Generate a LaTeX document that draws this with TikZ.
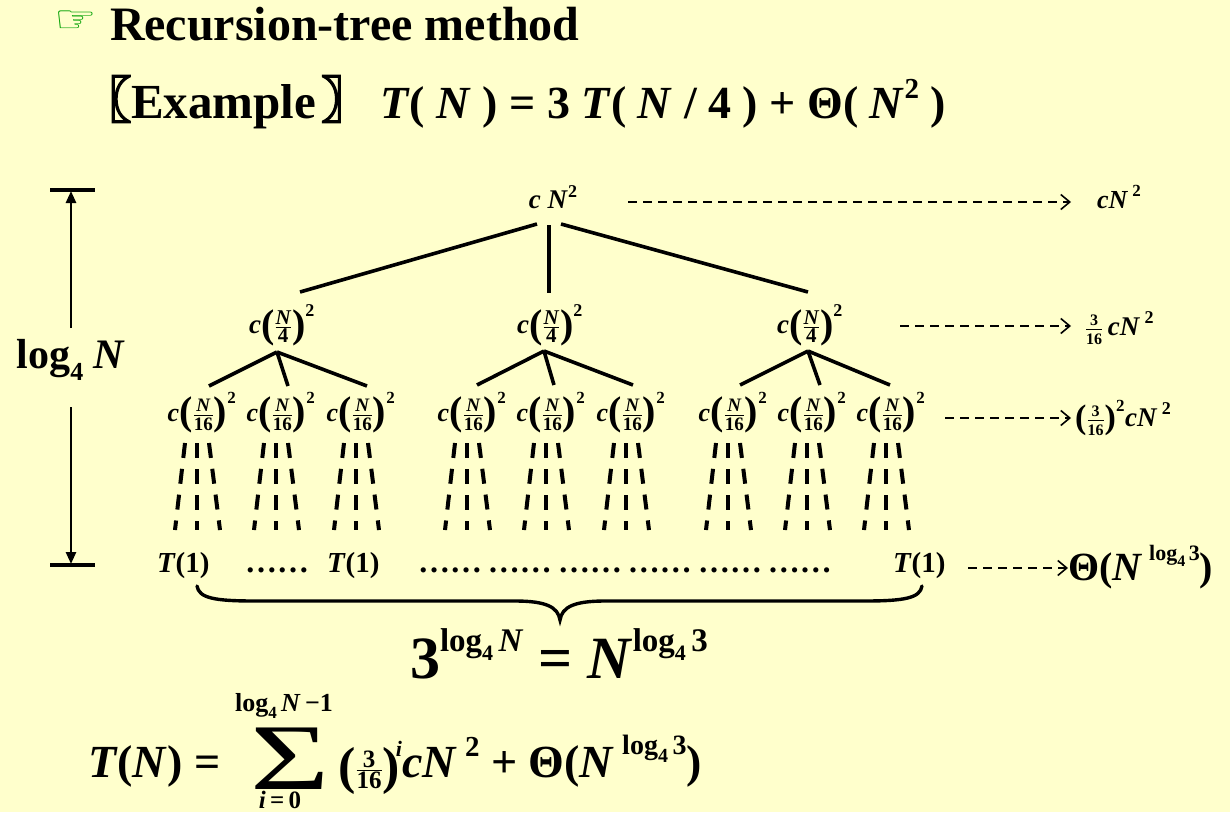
\documentclass[tikz,border=0pt]{standalone}
\usepackage{amsmath}
\usepackage{graphicx}
\usepackage{fontspec}
\setmainfont{Liberation Serif}
\newfontfamily\cjk{Noto Sans CJK SC}[AutoFakeBold=4]
\newfontfamily\djv{DejaVu Sans}
\usetikzlibrary{arrows.meta}
\definecolor{bg}{HTML}{FFFFCC}
\definecolor{handgreen}{HTML}{00A000}
\newcommand\fsz[1]{\fontsize{#1}{#1}\selectfont}
\newcommand\bi[1]{\textbf{\textit{#1}}}
\newcommand\lp[1]{\mathord{\vcenter{\hbox{\fsz{#1}\bfseries(}}}}
\newcommand\rp[1]{\mathord{\vcenter{\hbox{\fsz{#1}\bfseries)}}}}
% #1 denominator, #2 fraction size, #3 paren size, #4 exponent size
\newcommand\cpow[4]{\bi{c}$\lp{#3}\genfrac{}{}{0.8pt}{}{\text{\fsz{#2}\bfseries\itshape N}}{\text{\fsz{#2}\bfseries #1}}\rp{#3}^{\text{\fsz{#4}\bfseries 2}}$}
\newcommand\sfr[3]{$\genfrac{}{}{0.7pt}{}{\text{\fsz{#1}\bfseries #2}}{\text{\fsz{#1}\bfseries #3}}$}
\newcommand\lgf[3]{{\fsz{#1}\bfseries log\raisebox{-0.3em}{\fsz{#2}\bfseries 4}\,#3}}
\tikzset{
  every node/.style={inner sep=0pt,outer sep=0pt},
  tree/.style={line width=3.6pt},
  fan/.style={line width=4pt,dash pattern=on 15pt off 11pt},
  proj/.style={line width=1.6pt,dash pattern=on 9pt off 6pt,
    -{Straight Barb[length=9pt,width=15pt,line width=1.6pt]}},
  lvlone/.style={font=\fsz{27}\bfseries},
  lvltwo/.style={font=\fsz{26}\bfseries},
  leaf/.style={font=\fsz{29}\bfseries,anchor=base west},
  dots/.style={font=\fsz{32}\bfseries,anchor=base west},
  bar/.style={line width=3.6pt},
  vline/.style={line width=2.6pt,-{Triangle[length=12pt,width=10pt]}},
}
\begin{document}
\begin{tikzpicture}[x=1pt,y=-1pt]
\fill[bg] (0,0) rectangle (1230,812);
\useasboundingbox (0,0) rectangle (1230,812);

% headings
\node[anchor=west,font=\fsz{38}\djv,text=handgreen] (hand) at (54,22) {\scalebox{1.25}[1]{☞}};
\node[anchor=base west,font=\fsz{48}\bfseries] (title) at (110,40) {Recursion-tree method};
\node[anchor=base west,font=\fsz{49}\bfseries] (ex) at (110,118)
  {\hspace*{-28.5pt}{\fsz{50}\cjk\bfseries 〖}\hspace{-0.5pt}Example\hspace{5pt}{\fsz{50}\cjk\bfseries 〗}};
\node[anchor=base west,font=\fsz{46}\bfseries] (rec) at (380,118)
  {\bi{T}( \bi{N} ) = 3 \bi{T}( \bi{N} / 4 ) + Θ( \bi{N}\raisebox{0.42em}{\fsz{29}\bfseries 2} )};

% tree
\node[font=\fsz{27}\bfseries] (root) at (553,197) {\bi{c} \bi{N}\raisebox{0.42em}{\fsz{18}\bfseries 2}};
\node[lvlone] (A) at (282,325) {\cpow{4}{21}{40}{18}};
\node[lvlone] (B) at (550,325) {\cpow{4}{21}{40}{18}};
\node[lvlone] (C) at (810,325) {\cpow{4}{21}{40}{18}};

\coordinate (rL) at (537,224); \coordinate (rM) at (549,225); \coordinate (rR) at (561,224);
\coordinate (Atop) at (300,292); \coordinate (Btop) at (549,293); \coordinate (Ctop) at (808,292);
\draw[tree] (rL) -- (Atop);
\draw[tree] (rM) -- (Btop);
\draw[tree] (rR) -- (Ctop);

\coordinate (Aap) at (277,352); \coordinate (Bap) at (544,351); \coordinate (Cap) at (808,351);
\foreach \n/\x in {A1/209,A2/288,A3/367}{\coordinate (\n) at (\x,386); \draw[tree] (Aap) -- (\n);}
\foreach \n/\x in {B1/477,B2/554,B3/633}{\coordinate (\n) at (\x,385); \draw[tree] (Bap) -- (\n);}
\foreach \n/\x in {C1/740,C2/820,C3/890}{\coordinate (\n) at (\x,385); \draw[tree] (Cap) -- (\n);}

\foreach \n/\x in {a/202,b/281,c/361,d/472,e/551,f/631,g/733,h/812,i/891}{
  \node[lvltwo] (L\n) at (\x,413) {\cpow{16}{19}{40}{17}};
  \coordinate (L\n-l0) at (\x-17,443); \coordinate (L\n-l1) at (\x-27,530);
  \coordinate (L\n-m0) at (\x-5,443);  \coordinate (L\n-m1) at (\x-5,530);
  \coordinate (L\n-r0) at (\x+7,443);  \coordinate (L\n-r1) at (\x+18,530);
  \draw[fan] (L\n-l0) -- (L\n-l1);
  \draw[fan] (L\n-m0) -- (L\n-m1);
  \draw[fan] (L\n-r0) -- (L\n-r1);
}

% leaves
\node[leaf] (T1) at (157,572) {\bi{T}(1)};
\node[dots] (D1) at (245,572) {……};
\node[leaf] (T2) at (327,572) {\bi{T}(1)};
\node[dots] (D2) at (418,572) {……\hspace{6pt}……\hspace{6pt}……\hspace{6pt}……\hspace{6pt}……\hspace{6pt}……};
\node[leaf] (T3) at (893,572) {\bi{T}(1)};

% brace
\coordinate (brl) at (197,586); \coordinate (brr) at (922,586); \coordinate (brt) at (560,620);
\draw[line width=3.4pt,line cap=round]
  (brl) .. controls (199,598) and (214,601) .. (255,601) -- (515,601)
  .. controls (546,601) and (558,607) .. (brt)
  .. controls (562,607) and (574,601) .. (605,601) -- (864,601)
  .. controls (905,601) and (920,598) .. (brr);
\node[anchor=base west,font=\fsz{60}\bfseries] (count) at (410,678)
  {3\raisebox{0.45em}{\lgf{33}{22}{\bi{N}}} = \bi{N}\raisebox{0.45em}{\lgf{33}{22}{3}}};

% height marker
\coordinate (tbl) at (50,190); \coordinate (tbr) at (95,190);
\coordinate (bbl) at (50,565); \coordinate (bbr) at (95,565);
\draw[bar] (tbl) -- (tbr);
\draw[bar] (bbl) -- (bbr);
\node[font=\fsz{42}\bfseries] (logN) at (71,360) {log\raisebox{-0.3em}{\fsz{26}\bfseries 4} \bi{N}};
\coordinate (up0) at (71,328); \coordinate (up1) at (71,191);
\coordinate (dn0) at (71,407); \coordinate (dn1) at (71,564);
\draw[vline] (up0) -- (up1);
\draw[vline] (dn0) -- (dn1);

% level sums
\coordinate (p1s) at (628,202); \coordinate (p1e) at (1071,202);
\coordinate (p2s) at (900,326); \coordinate (p2e) at (1071,326);
\coordinate (p3s) at (945,418); \coordinate (p3e) at (1071,418);
\coordinate (p4s) at (968,568); \coordinate (p4e) at (1068,568);
\draw[proj] (p1s) -- (p1e);
\draw[proj] (p2s) -- (p2e);
\draw[proj] (p3s) -- (p3e);
\draw[proj] (p4s) -- (p4e);
\node[anchor=base west,font=\fsz{26}\bfseries] (s1) at (1097,208)
  {\bi{cN}\,\raisebox{0.45em}{\fsz{17}\bfseries 2}};
\node[anchor=west,font=\fsz{27}\bfseries] (s2) at (1085,328)
  {\sfr{16}{3}{16}\,\bi{cN}\,\raisebox{0.45em}{\fsz{18}\bfseries 2}};
\node[anchor=west,font=\fsz{27}\bfseries] (s3) at (1075,418)
  {$\lp{34}\genfrac{}{}{0.7pt}{}{\text{\fsz{16}\bfseries 3}}{\text{\fsz{16}\bfseries 16}}\rp{34}^{\text{\fsz{17}\bfseries 2}}$\bi{cN}\,\raisebox{0.45em}{\fsz{18}\bfseries 2}};
\node[anchor=base west,font=\fsz{40}\bfseries] (s4) at (1068,580)
  {Θ(\bi{N}\,\raisebox{0.5em}{\lgf{22}{16}{3}})};

% total
\node[anchor=base west,font=\fsz{46}\bfseries] (TN) at (88,777) {\bi{T}(\bi{N}) =};
\node[font=\fsz{94}] (sig) at (290,759) {\scalebox{1.45}[1]{Σ}};
\node[font=\fsz{26}\bfseries] (up) at (284,706) {log\raisebox{-0.3em}{\fsz{17}\bfseries 4}\,\bi{N}\,−1};
\node[font=\fsz{25}\bfseries] (lo) at (280,800) {\bi{i}\,=\,0};
\node[anchor=base west,font=\fsz{46}\bfseries] (rest) at (338,777)
  {$\lp{52}\genfrac{}{}{0.7pt}{}{\text{\fsz{25}\bfseries 3}}{\text{\fsz{25}\bfseries 16}}\rp{52}^{\!\text{\fsz{22}\bfseries\itshape i}}$\bi{cN}\,\raisebox{0.45em}{\fsz{29}\bfseries 2} + Θ(\bi{N}\,\raisebox{0.5em}{\lgf{28}{20}{3}})};
\end{tikzpicture}
\end{document}
